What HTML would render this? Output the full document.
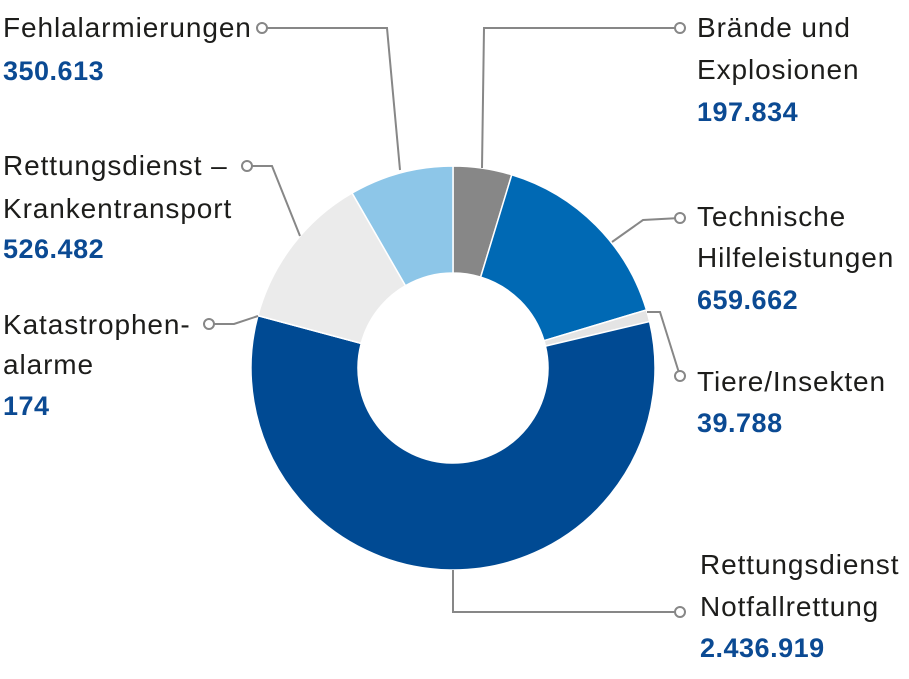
<!DOCTYPE html>
<html><head><meta charset="utf-8"><style>
body{margin:0;background:#fff;}
svg text{font-family:"Liberation Sans",sans-serif;font-size:28px;letter-spacing:0.9px;fill:#1d1d1b;}
svg text.n{font-weight:bold;font-size:27px;letter-spacing:0.5px;fill:#0b4a93;}
</style></head><body>
<svg id="s" width="909" height="674" viewBox="0 0 909 674" xmlns="http://www.w3.org/2000/svg">
<g id="d"></g>
<g fill="none" stroke="#878787" stroke-width="2">
<polyline points="262,28 387,28 400,170"/>
<polyline points="680,28 484,28 482,168"/>
<polyline points="680,218 643,220 612,242"/>
<polyline points="647,312 660,312 680,376"/>
<polyline points="680,612 453,612 453,570"/>
<polyline points="209,324 234,324 258,316"/>
<polyline points="247,166 272,166 300,236"/>
</g>
<g fill="#fff" stroke="#878787" stroke-width="2">
<circle cx="262" cy="28" r="5"/><circle cx="680" cy="28" r="5"/><circle cx="680" cy="218" r="5"/>
<circle cx="680" cy="376" r="5"/><circle cx="680" cy="612" r="5"/><circle cx="209" cy="324" r="5"/><circle cx="247" cy="166" r="5"/>
</g>
<text x="3" y="37">Fehlalarmierungen</text><text class="n" x="3" y="80">350.613</text>
<text x="3" y="175">Rettungsdienst –</text><text x="3" y="218">Krankentransport</text><text class="n" x="3" y="258">526.482</text>
<text x="3" y="334">Katastrophen-</text><text x="3" y="374">alarme</text><text class="n" x="3" y="415">174</text>
<text x="697" y="37">Brände und</text><text x="697" y="79">Explosionen</text><text class="n" x="697" y="121">197.834</text>
<text x="697" y="226">Technische</text><text x="697" y="267">Hilfeleistungen</text><text class="n" x="697" y="309">659.662</text>
<text x="697" y="391">Tiere/Insekten</text><text class="n" x="697" y="432">39.788</text>
<text x="700" y="574">Rettungsdienst</text><text x="700" y="616">Notfallrettung</text><text class="n" x="700" y="657">2.436.919</text>
</svg>
<script>
var data=[[197834,"#878787"],[659662,"#0069b4"],[39788,"#e4e4e4"],[2436919,"#004a93"],[174,"#dcdcdc"],[526482,"#ebebeb"],[350613,"#8dc6e8"]];
var cx=453,cy=368,R=202,r=95,tot=0;data.forEach(function(d){tot+=d[0]});
var a=-Math.PI/2,g=document.getElementById("d"),h="";
data.forEach(function(d){var b=a+d[0]/tot*2*Math.PI,l=(b-a)>Math.PI?1:0;
function p(rr,t){return (cx+rr*Math.cos(t)).toFixed(2)+","+(cy+rr*Math.sin(t)).toFixed(2)}
h+='<path fill="'+d[1]+'" stroke="#fff" stroke-width="1.5" d="M'+p(R,a)+' A'+R+','+R+' 0 '+l+' 1 '+p(R,b)+' L'+p(r,b)+' A'+r+','+r+' 0 '+l+' 0 '+p(r,a)+'Z"/>';a=b;});
g.innerHTML=h;
</script>
</body></html>
